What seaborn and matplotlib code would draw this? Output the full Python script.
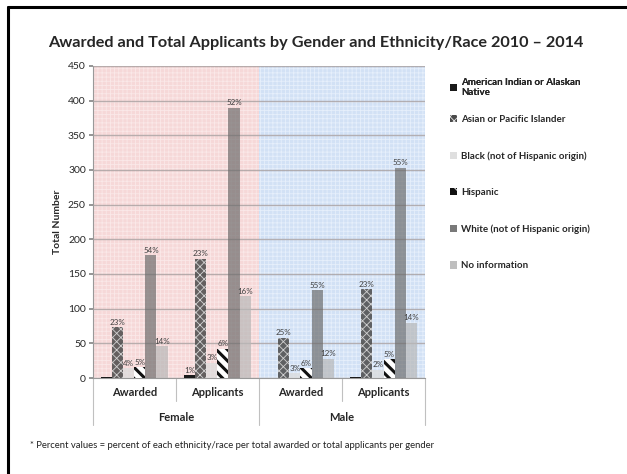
import matplotlib.pyplot as plt
import matplotlib.patches as mpatches
import matplotlib.transforms as mtransforms
import seaborn as sns
import pandas as pd

# datos
grupos = ['Female Awarded', 'Female Applicants', 'Male Awarded', 'Male Applicants']
sub_etiquetas = ['Awarded', 'Applicants', 'Awarded', 'Applicants']
generos = ['Female', 'Male']
etnias = ['American Indian or Alaskan Native', 'Asian or Pacific Islander',
          'Black (not of Hispanic origin)', 'Hispanic',
          'White (not of Hispanic origin)', 'No information']

am_indian = [1, 4, 0, 2]
asian = [73, 172, 58, 128]
black = [14, 22, 7, 12]
hispanic = [16, 42, 14, 27]
white = [177, 390, 127, 303]
no_info = [46, 118, 28, 80]

pct_am_indian = ['', '1%', '', '']
pct_asian = ['23%', '23%', '25%', '23%']
pct_black = ['4%', '3%', '3%', '2%']
pct_hispanic = ['5%', '6%', '6%', '5%']
pct_white = ['54%', '52%', '55%', '55%']
pct_no_info = ['14%', '16%', '12%', '14%']

valores = [am_indian, asian, black, hispanic, white, no_info]
porcentajes = [pct_am_indian, pct_asian, pct_black, pct_hispanic, pct_white, pct_no_info]

filas = []
for etnia, vals in zip(etnias, valores):
    for g, v in zip(grupos, vals):
        filas.append({'grupo': g, 'etnia': etnia, 'total': v})
datos = pd.DataFrame(filas)

# estilos de cada serie
colores = ['#1a1a1a', '#4a4a4a', '#dcdcdc', '#ffffff', '#6a6a6a', '#b8b8b8']
tramas = ['', 'xxxx', '', '\\\\\\', '', '']
bordes_trama = ['#1a1a1a', '#e6e6e6', '#dcdcdc', '#111111', '#6a6a6a', '#b8b8b8']
alfas = [1.0, 0.85, 0.75, 1.0, 0.68, 0.7]

sns.set_theme(style="white")
plt.rcParams['font.family'] = ['Lato', 'DejaVu Sans']
plt.rcParams['hatch.linewidth'] = 0.6

fig = plt.figure(figsize=(6.27, 4.74), dpi=100)
ax = fig.add_axes([0.148, 0.2025, 0.530, 0.6585])

# fondos rosa y azul
for x0, x1, fc, ec in [(-0.5, 1.5, '#f6d8d8', '#fae8e8'), (1.5, 3.5, '#d2e1f5', '#e6effb')]:
    ax.axvspan(x0, x1, facecolor=fc, edgecolor=ec, hatch='++++', lw=0, zorder=0)

sns.barplot(data=datos, x='grupo', y='total', hue='etnia', order=grupos,
            hue_order=etnias, width=0.8, ax=ax, legend=False, zorder=3,
            palette=colores, saturation=1, errorbar=None)

for i, cont in enumerate(ax.containers):
    for p in cont.patches:
        p.set_facecolor(colores[i])
        p.set_alpha(alfas[i])
        p.set_hatch(tramas[i])
        p.set_edgecolor(bordes_trama[i])
        p.set_linewidth(0)
        if hasattr(p, 'set_hatch_linewidth'):
            p.set_hatch_linewidth(2.2 if i == 3 else 0.6)
    ax.bar_label(cont, labels=porcentajes[i], fontsize=5.8, color='#404040', padding=1)

ax.set_xlim(-0.5, 3.5)
ax.set_ylim(0, 450)
ax.set_yticks(range(0, 451, 50))
ax.tick_params(axis='y', labelsize=7.5, length=3, left=True, color='#888888', pad=2)
ax.set_xticks([])
ax.set_xlabel('')
ax.set_ylabel('Total Number', fontsize=7.5, fontweight='bold', labelpad=4)
ax.yaxis.grid(True, color='#a8a0a0', lw=1, zorder=1, alpha=0.8)
ax.set_axisbelow(False)
for lado in ['top', 'right']:
    ax.spines[lado].set_visible(False)
for lado in ['left', 'bottom']:
    ax.spines[lado].set_color('#999999')
    ax.spines[lado].set_linewidth(0.8)
for gl in ax.get_ygridlines():
    gl.set_zorder(1)

# etiquetas de categoria en dos niveles
trans = mtransforms.blended_transform_factory(ax.transData, ax.transAxes)
for i, t in enumerate(sub_etiquetas):
    ax.text(i, -0.045, t, transform=trans, ha='center', va='center',
            fontsize=8, fontweight='bold')
for j, g in enumerate(generos):
    ax.text(2 * j + 0.5, -0.128, g, transform=trans, ha='center', va='center',
            fontsize=8, fontweight='bold')
for x, fondo_y in [(-0.5, -0.15), (0.5, -0.075), (1.5, -0.15), (2.5, -0.075), (3.5, -0.15)]:
    ax.plot([x, x], [0, fondo_y], transform=trans, color='#c0c0c0', lw=0.8, clip_on=False)

fig.suptitle('Awarded and Total Applicants by Gender and Ethnicity/Race 2010 \u2013 2014',
             x=0.504, y=0.925, fontsize=11.7, fontweight='bold')

# leyenda (dos bloques para respetar el espaciado del original)
manijas = []
for i in range(len(etnias)):
    if i == 3:
        manijas.append(mpatches.Patch(facecolor='#111111', hatch='\\\\', edgecolor='white', lw=0))
    else:
        manijas.append(mpatches.Patch(facecolor=colores[i], hatch=tramas[i], edgecolor=bordes_trama[i],
                                      lw=0, alpha=1.0 if i in (0, 1) else 0.9))
prop_leyenda = {'size': 7, 'weight': 'bold'}
ley1 = fig.legend(manijas[:1], ['American Indian or Alaskan\nNative'], loc='upper left',
                  bbox_to_anchor=(0.703, 0.854), frameon=False, prop=prop_leyenda,
                  handlelength=0.8, handleheight=0.8, handletextpad=0.4)
fig.add_artist(ley1)
fig.legend(manijas[1:], etnias[1:], loc='upper left', bbox_to_anchor=(0.703, 0.776),
           frameon=False, prop=prop_leyenda, labelspacing=2.8,
           handlelength=0.8, handleheight=0.8, handletextpad=0.4)

fig.text(0.048, 0.054, '* Percent values = percent of each ethnicity/race per total awarded or total applicants per gender',
         fontsize=6.8, color='#222222')

# borde superior e izquierdo
fig.add_artist(plt.Line2D([0.013, 1.0], [0.985, 0.985], color='black', lw=2.2))
fig.add_artist(plt.Line2D([0.013, 0.013], [0.0, 0.985], color='black', lw=2.2))

plt.savefig('out.png', dpi=100)
